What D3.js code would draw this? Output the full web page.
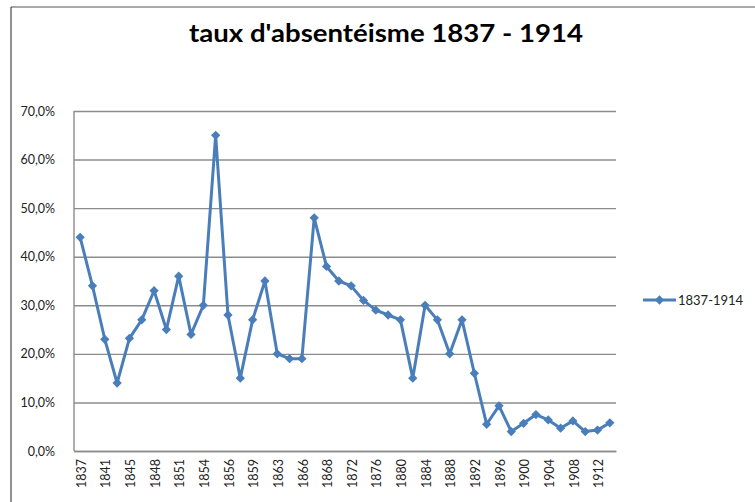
<!DOCTYPE html>
<html>
<head>
<meta charset="utf-8">
<script src="https://cdn.jsdelivr.net/npm/d3@7"></script>
<style>
body { margin:0; background:#fff; }
svg { display:block; font-family: Lato, "Liberation Sans", sans-serif; }
</style>
</head>
<body>
<div id="chart"></div>
<script>
// categories (every other one is labelled on the axis)
const years = [1837,1839,1841,1843,1845,1846,1848,1849,1851,1852,1854,1855,1856,1857,1859,1861,1863,1864,1866,1867,1868,1870,1872,1874,1876,1878,1880,1882,1884,1886,1888,1890,1892,1894,1896,1898,1900,1902,1904,1906,1908,1910,1912,1914]
// taux d'absentéisme, in %
const rates = [44,34,23,14,23.2,27,33,25,36,24,30,65,28,15,27,35,20,19,19,48,38,35,34,31,29,28,27,15,30,27,20,27,16,5.5,9.3,4,5.7,7.5,6.4,4.7,6.2,4,4.3,5.8]
const yTicks = [0,10,20,30,40,50,60,70]
const seriesName = "1837-1914"
const title = "taux d'absentéisme 1837 - 1914"

const width = 755
const height = 502
const margin = { top:111, left:74, right:139, bottom:51 }
const innerWidth = width - margin.left - margin.right
const innerHeight = height - margin.top - margin.bottom
const blue = '#4a7ebb'
const grid = '#8c8c8c'
const ink = '#222'

const fr = d3.formatLocale({decimal:',', thousands:' ', grouping:[3], currency:['','€']})
const fmt = fr.format('.1f')

const data = years.map((y,i)=>({year:y, value:rates[i]}))

const svg = d3.select('#chart').append('svg')
  .attr('width', width).attr('height', height)

// frame edges of the chart
svg.append('line').attr('x1',11).attr('x2',width).attr('y1',7).attr('y2',7)
  .attr('stroke',grid).attr('stroke-width',1.5)
svg.append('line').attr('x1',11).attr('x2',11).attr('y1',7).attr('y2',height)
  .attr('stroke',ink).attr('stroke-width',1)

svg.append('text')
  .text(title)
  .attr('x', 386).attr('y', 42)
  .attr('text-anchor','middle')
  .attr('font-weight','bold')
  .attr('font-size', 24)
  .attr('fill','#000')
  .attr('textLength', 394)
  .attr('lengthAdjust','spacingAndGlyphs')

const g = svg.append('g').attr('transform',`translate(${margin.left},${margin.top})`)

const xScale = d3.scaleBand().domain(years).range([0, innerWidth])
const yScale = d3.scaleLinear().domain([0,70]).range([innerHeight,0])

const yAxis = d3.axisLeft(yScale)
  .tickValues(yTicks)
  .tickSize(-innerWidth)
  .tickPadding(19)
  .tickFormat(d=>fmt(d)+'%')
const yAxisG = g.append('g').call(yAxis)
yAxisG.select('.domain').remove()
yAxisG.selectAll('.tick line').attr('stroke',grid).attr('stroke-width',1.4)
yAxisG.selectAll('.tick text').attr('font-size',12.5).attr('fill',ink)
  .attr('font-family','Lato, "Liberation Sans", sans-serif')

g.append('line').attr('x1',0).attr('x2',0).attr('y1',0).attr('y2',innerHeight)
  .attr('stroke',grid).attr('stroke-width',1.4)

const xAxis = d3.axisBottom(xScale)
  .tickValues(years.filter((d,i)=>i%2===0))
  .tickSize(0)
  .tickSizeOuter(0)
const xAxisG = g.append('g').attr('transform',`translate(0,${innerHeight})`).call(xAxis)
xAxisG.select('.domain').attr('stroke',grid).attr('stroke-width',1.4)
xAxisG.selectAll('.tick text')
  .attr('font-size',12.5).attr('fill',ink)
  .attr('font-family','Lato, "Liberation Sans", sans-serif')
  .attr('text-anchor','end')
  .attr('dy','0.45em')
  .attr('transform','translate(0,8) rotate(-90)')
  .attr('x',0).attr('y',0)

const xPos = d=>xScale(d.year)+xScale.bandwidth()/2
const line = d3.line().x(xPos).y(d=>yScale(d.value))

g.append('path').datum(data)
  .attr('d', line)
  .attr('fill','none')
  .attr('stroke', blue)
  .attr('stroke-width', 3)
  .attr('stroke-linejoin','round')

const diamond = d3.symbol().type(d3.symbolDiamond2).size(55)
g.selectAll('.marker').data(data).enter()
  .append('path').attr('class','marker')
  .attr('d', diamond)
  .attr('transform', d=>`translate(${xPos(d)},${yScale(d.value)})`)
  .attr('fill', blue)

// legend
const lg = svg.append('g').attr('transform','translate(643,300)')
lg.append('line').attr('x1',0).attr('x2',33).attr('stroke',blue).attr('stroke-width',3)
lg.append('path').attr('d',diamond).attr('transform','translate(16.5,0)').attr('fill',blue)
lg.append('text').text(seriesName).attr('x',35).attr('dy','0.35em')
  .attr('font-size',13).attr('fill',ink)
</script>
</body>
</html>
